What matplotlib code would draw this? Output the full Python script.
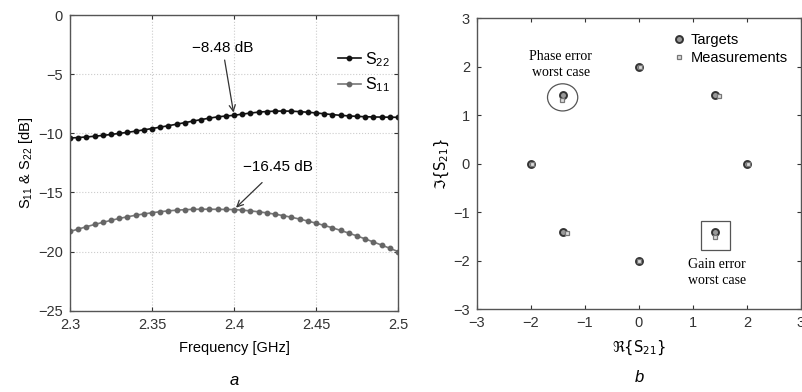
import numpy as np
import matplotlib
matplotlib.use('Agg')
import matplotlib.pyplot as plt
from matplotlib.patches import Circle, Rectangle

plt.rcParams['font.family'] = ['Liberation Sans', 'DejaVu Sans']
plt.rcParams['mathtext.default'] = 'regular'
plt.rcParams['font.size'] = 10.5
plt.rcParams['xtick.direction'] = 'in'
plt.rcParams['ytick.direction'] = 'in'

# ---- panel a data ----
freq = [2.300, 2.305, 2.310, 2.315, 2.320, 2.325, 2.330, 2.335, 2.340, 2.345,
        2.350, 2.355, 2.360, 2.365, 2.370, 2.375, 2.380, 2.385, 2.390, 2.395,
        2.400, 2.405, 2.410, 2.415, 2.420, 2.425, 2.430, 2.435, 2.440, 2.445,
        2.450, 2.455, 2.460, 2.465, 2.470, 2.475, 2.480, 2.485, 2.490, 2.495,
        2.500]
s22 = [-10.40, -10.36, -10.31, -10.25, -10.18, -10.10, -10.01, -9.92, -9.82, -9.71,
       -9.60, -9.48, -9.36, -9.23, -9.10, -8.97, -8.84, -8.72, -8.61, -8.54,
       -8.48, -8.38, -8.29, -8.21, -8.16, -8.13, -8.12, -8.13, -8.17, -8.22,
       -8.28, -8.35, -8.42, -8.48, -8.53, -8.57, -8.60, -8.62, -8.63, -8.64,
       -8.65]
s11 = [-18.30, -18.10, -17.90, -17.71, -17.53, -17.36, -17.20, -17.06, -16.93, -16.82,
       -16.72, -16.63, -16.56, -16.50, -16.46, -16.43, -16.42, -16.42, -16.43, -16.44,
       -16.45, -16.50, -16.56, -16.64, -16.73, -16.84, -16.96, -17.10, -17.25, -17.42,
       -17.60, -17.79, -17.99, -18.21, -18.44, -18.68, -18.93, -19.19, -19.45, -19.72,
       -20.00]

# ---- panel b data ----
target_re = [2.0, 1.414, 0.0, -1.414, -2.0, -1.414, 0.0, 1.414]
target_im = [0.0, 1.414, 2.0, 1.414, 0.0, -1.414, -2.0, -1.414]
meas_re = [2.02, 1.48, 0.01, -1.43, -1.98, -1.33, 0.0, 1.40]
meas_im = [-0.02, 1.39, 1.99, 1.31, 0.0, -1.43, -2.0, -1.52]

spine_c = '#555555'

fig = plt.figure(figsize=(8.03, 3.92), dpi=100)
ax1 = fig.add_axes([0.0872, 0.2074, 0.4084, 0.7543])
ax2 = fig.add_axes([0.594, 0.2117, 0.4035, 0.7423])

# panel a
ax1.plot(freq, s22, '-', color='#111111', lw=1.2, marker='o', ms=3.2,
         label='S$_{22}$')
ax1.plot(freq, s11, '-', color='#777777', lw=1.2, marker='o', ms=3.2,
         mfc='#666666', mec='#666666', label='S$_{11}$')
ax1.set_xlim(2.3, 2.5)
ax1.set_ylim(-25, 0)
ax1.set_xticks([2.3, 2.35, 2.4, 2.45, 2.5])
ax1.set_xticklabels(['2.3', '2.35', '2.4', '2.45', '2.5'])
ax1.set_yticks([-25, -20, -15, -10, -5, 0])
ax1.set_yticklabels(['\u221225', '\u221220', '\u221215', '\u221210', '\u22125', '0'])
ax1.grid(True, ls=':', color='#cccccc', lw=0.8)
ax1.set_xlabel('Frequency [GHz]', labelpad=7)
ax1.set_ylabel('S$_{11}$ & S$_{22}$ [dB]', labelpad=2)
ax1.tick_params(top=True, right=True, length=3, colors='#333333', pad=5)
ax1.legend(loc='upper right', frameon=False, handlelength=1.4,
           handletextpad=0.3, fontsize=11.5, bbox_to_anchor=(1.02, 0.93),
           labelspacing=0.4)
ax1.annotate('\u22128.48 dB', xy=(2.4, s22[freq.index(2.400)]),
             xytext=(2.393, -2.75), ha='center', va='center', fontsize=11,
             arrowprops=dict(arrowstyle='->', color='#333333', lw=0.9))
ax1.annotate('\u221216.45 dB', xy=(2.4, s11[freq.index(2.400)]),
             xytext=(2.427, -12.85), ha='center', va='center', fontsize=11,
             arrowprops=dict(arrowstyle='->', color='#333333', lw=0.9,
                             shrinkA=6))
ax1.text(0.5, -0.235, 'a', transform=ax1.transAxes, ha='center', va='center',
         fontsize=12, style='italic')

# panel b
ax2.plot(target_re, target_im, 'o', ms=5, mfc='#999999', mec='#333333',
         mew=1.4, ls='none', label='Targets')
ax2.plot(meas_re, meas_im, 's', ms=3.5, mfc='#dddddd', mec='#777777',
         mew=0.9, ls='none', label='Measurements')
ax2.set_xlim(-3, 3)
ax2.set_ylim(-3, 3)
ax2.set_xticks(range(-3, 4))
ax2.set_yticks(range(-3, 4))
ax2.set_xticklabels(['\u22123', '\u22122', '\u22121', '0', '1', '2', '3'])
ax2.set_yticklabels(['\u22123', '\u22122', '\u22121', '0', '1', '2', '3'])
ax2.tick_params(top=True, right=True, length=3, colors='#333333', pad=5)
ax2.set_xlabel('\u211c{S$_{21}$}', labelpad=6, family='DejaVu Sans')
ax2.set_ylabel('\u2111{S$_{21}$}', labelpad=2, family='DejaVu Sans')
ax2.legend(loc='upper right', frameon=False, handlelength=0.8,
           handletextpad=0.4, fontsize=10.5, labelspacing=0.3,
           bbox_to_anchor=(1.0, 0.995))

# highlight markers
ax2.add_patch(Circle((target_re[3], target_im[3] - 0.05), 0.28,
                     fill=False, ec='#555555', lw=0.9))
ax2.add_patch(Rectangle((target_re[7] - 0.27, target_im[7] - 0.37), 0.55, 0.6,
                        fill=False, ec='#555555', lw=0.9))
ax2.text(-1.45, 2.05, 'Phase error\nworst case', ha='center', va='center',
         family='Liberation Serif', fontsize=10, linespacing=1.3)
ax2.text(1.45, -2.25, 'Gain error\nworst case', ha='center', va='center',
         family='Liberation Serif', fontsize=10, linespacing=1.3)
ax2.text(0.5, -0.235, 'b', transform=ax2.transAxes, ha='center', va='center',
         fontsize=12, style='italic')

for ax in (ax1, ax2):
    for s in ax.spines.values():
        s.set_color(spine_c)
        s.set_linewidth(1.0)

fig.savefig('out.png', dpi=100)
